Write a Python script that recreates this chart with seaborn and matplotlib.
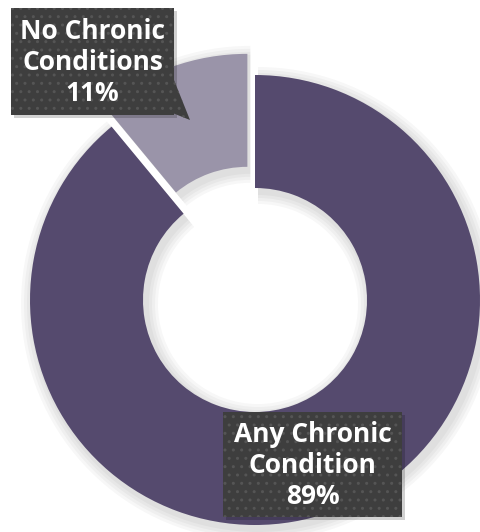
import matplotlib
matplotlib.use("Agg")
import matplotlib.pyplot as plt
import seaborn as sns
from matplotlib.patches import Rectangle, Polygon

categories = ["No Chronic\nConditions", "Any Chronic\nCondition"]
values = [11, 89]
colors = ["#9A94A9", "#554A6E"]

sns.set_theme(style="white")
plt.rcParams['font.family'] = ['Open Sans', 'DejaVu Sans']

fig = plt.figure(figsize=(4.8, 5.32), dpi=100)
ax = fig.add_axes([0, 0, 1, 1])

cx, cy, R = 255, 232, 225
explode = [22.5, 0]

# soft shadow
for k in range(4):
    ax.pie(values, startangle=90, counterclock=True, explode=explode,
           radius=R + 3 + 3 * k, center=(cx + 3, cy - 4),
           colors=["#000000", "#000000"],
           wedgeprops=dict(width=113 + 6 + 6 * k, alpha=0.03, linewidth=0), frame=True)

ax.pie(values, startangle=90, counterclock=True, explode=explode,
       radius=R, center=(cx, cy), colors=colors,
       wedgeprops=dict(width=113, linewidth=0), frame=True)
ax.set_xlim(0, 480)
ax.set_ylim(0, 532)
ax.set_aspect("equal")
ax.axis("off")

def label_box(x0, y0, x1, y1, text, pointer=None):
    # coordinates in pixels from top
    yb0, yb1 = 532 - y1, 532 - y0
    ax.add_patch(Rectangle((x0 + 3, yb0 - 3), x1 - x0, yb1 - yb0,
                           facecolor="#000000", alpha=0.18, linewidth=0, zorder=5))
    if pointer is not None:
        pts = [(px, 532 - py) for px, py in pointer]
        ax.add_patch(Polygon(pts, closed=True, facecolor="#3E3E3E",
                             edgecolor="none", zorder=6))
        ax.add_patch(Polygon(pts, closed=True, facecolor="none",
                             edgecolor="#555555", hatch="..", linewidth=0, zorder=6))
    ax.add_patch(Rectangle((x0, yb0), x1 - x0, yb1 - yb0,
                           facecolor="#3E3E3E", linewidth=0, zorder=6))
    ax.add_patch(Rectangle((x0, yb0), x1 - x0, yb1 - yb0,
                           facecolor="none", edgecolor="#555555", hatch="..",
                           linewidth=0, zorder=6))
    ax.text((x0 + x1) / 2, (yb0 + yb1) / 2 - 1, text, ha="center", va="center",
            color="white", fontsize=19, fontweight="bold", linespacing=1.18,
            zorder=7)

label_box(11, 8, 174, 115, f"{categories[0]}\n{values[0]}%",
          pointer=[(170, 70), (190, 120), (170, 112)])
label_box(223, 412, 402, 517, f"{categories[1]}\n{values[1]}%")

fig.savefig("out.png", dpi=100)
